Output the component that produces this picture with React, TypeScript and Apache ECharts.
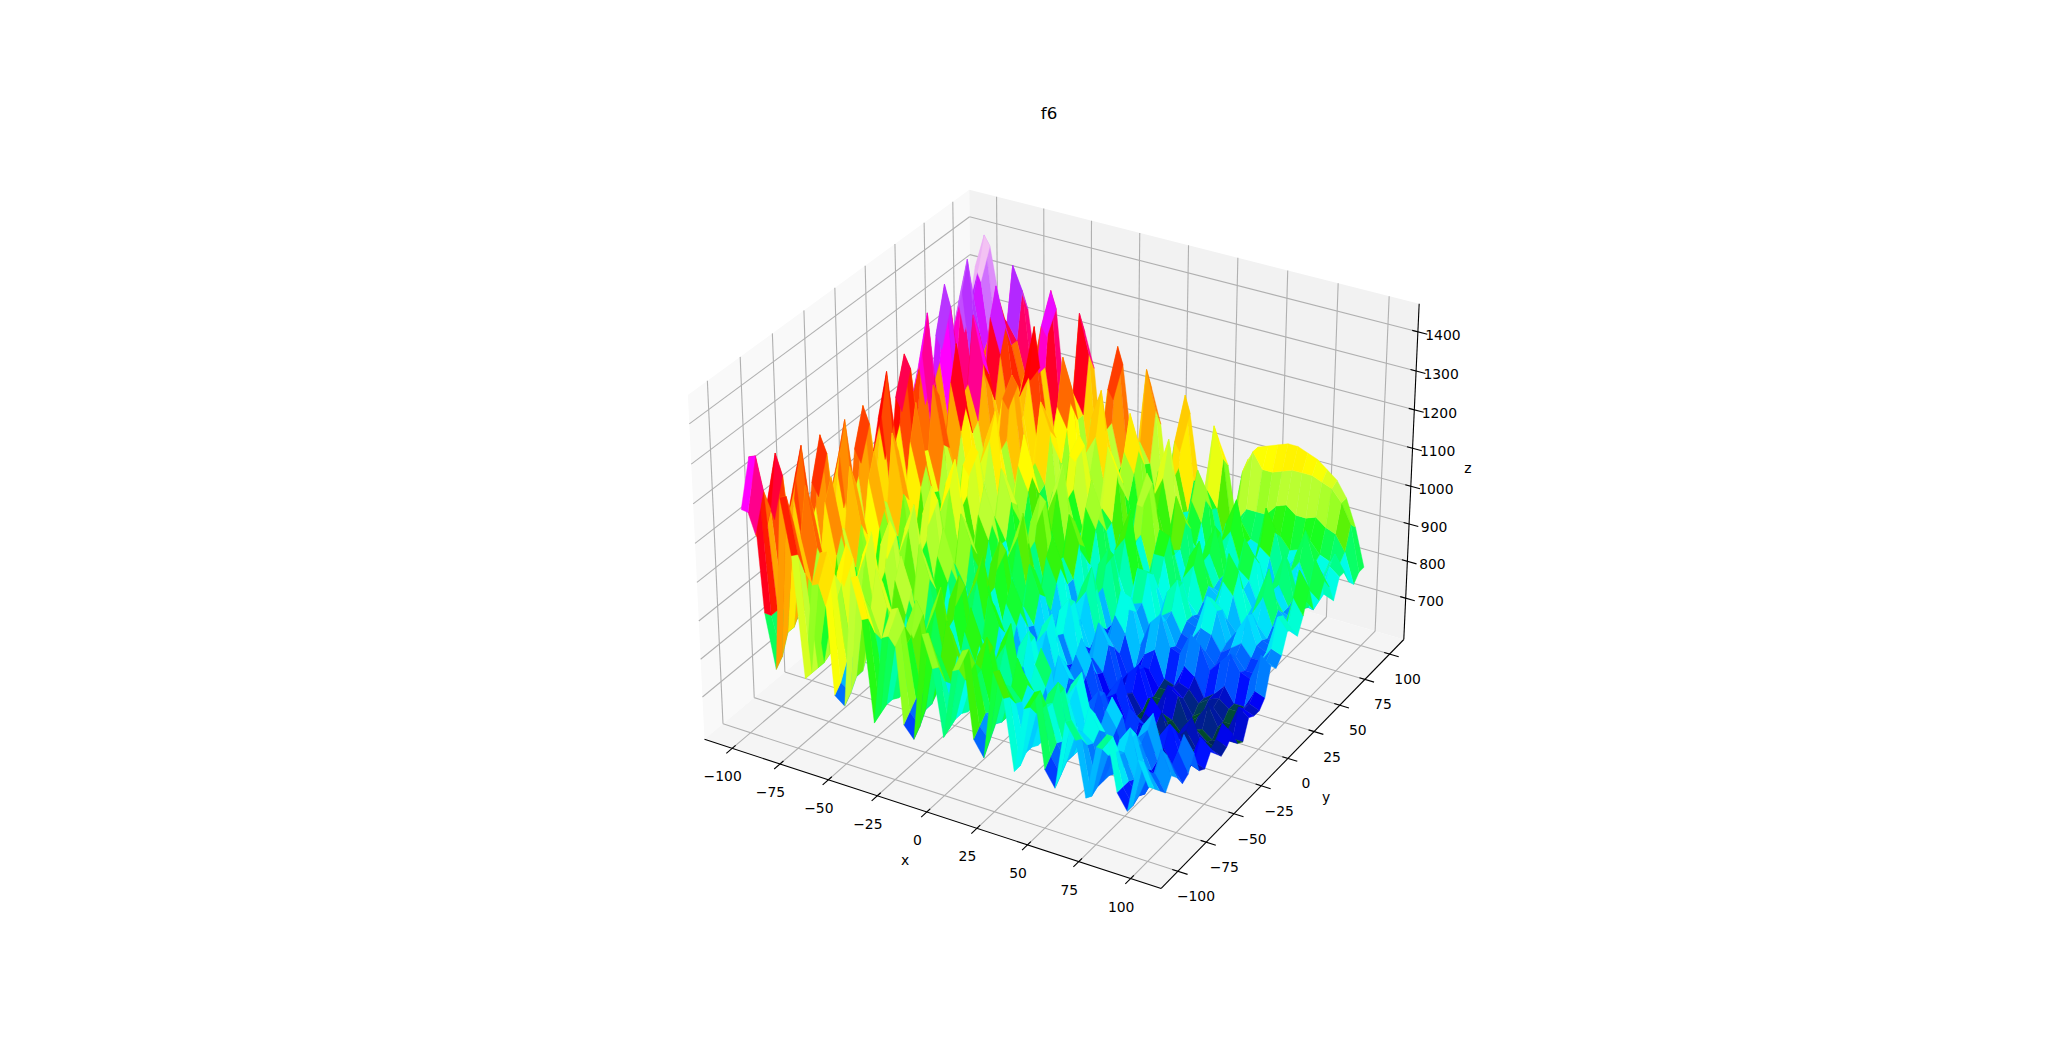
import React, { useEffect, useRef } from "react";
import * as echarts from "echarts";

const xTicks = [-100, -75, -50, -25, 0, 25, 50, 75, 100];
const yTicks = [-100, -75, -50, -25, 0, 25, 50, 75, 100];
const zTicks = [700, 800, 900, 1000, 1100, 1200, 1300, 1400];
const gridX = [-100,-95,-90,-85,-80,-75,-70,-65,-60,-55,-50,-45,-40,-35,-30,-25,-20,-15,-10,-5,0,5,10,15,20,25,30,35,40,45,50,55,60,65,70,75,80,85,90,95,100];
const gridY = gridX;
// surface heights, in tens of z units; first row is y=-100, last row y=100
const zRows = [
[117,131,92,78,123,109,78,103,112,76,74,108,98,72,95,103,74,71,99,91,74,92,98,76,72,95,89,71,88,93,74,70,88,84,70,84,88,74,70,84,78],
[115,130,90,80,122,108,78,102,111,78,76,107,97,73,94,102,76,73,98,90,75,91,97,78,75,94,88,71,87,92,76,72,87,83,69,82,86,74,70,82,76],
[108,120,90,85,114,102,78,95,104,82,79,100,92,74,90,96,78,76,92,85,76,87,92,80,78,89,85,73,84,87,78,74,83,80,70,79,81,74,71,78,74],
[104,114,89,85,109,98,78,92,100,82,79,96,89,74,87,92,78,76,89,83,76,85,89,79,77,87,84,73,83,86,77,74,81,79,70,77,79,73,70,76,72],
[114,127,93,88,121,106,79,101,109,87,83,105,96,73,93,100,80,78,97,89,75,90,96,80,77,93,87,72,86,90,77,74,86,81,70,80,84,74,71,81,75],
[108,120,92,87,114,101,79,96,104,84,81,100,92,73,88,95,79,77,92,85,75,86,92,79,76,88,84,72,83,87,76,73,83,79,69,78,81,73,70,78,73],
[95,102,85,83,99,90,77,85,91,80,78,88,83,72,81,85,76,74,83,78,74,80,84,77,75,82,79,71,79,82,74,72,78,75,69,75,77,71,69,74,70],
[106,118,91,87,113,100,78,95,103,84,81,98,90,73,87,94,79,76,90,83,75,85,90,78,75,87,82,71,81,85,75,72,81,77,68,76,79,72,69,76,71],
[111,124,92,87,118,105,78,100,107,85,82,103,95,73,91,98,80,77,95,88,75,88,94,79,76,90,85,72,83,87,76,73,83,79,69,78,82,73,70,79,75],
[99,109,87,84,104,95,77,89,95,81,79,91,85,72,83,88,76,74,85,80,70,78,81,73,72,78,75,67,72,74,68,67,72,70,66,69,71,67,66,70,69],
[97,106,86,83,102,93,77,87,94,80,78,89,84,72,82,87,75,74,84,79,70,77,80,72,71,77,74,67,71,73,68,67,71,69,66,68,70,66,65,69,68],
[110,123,92,87,117,103,77,99,106,85,81,102,94,74,90,97,79,77,94,87,72,83,88,74,73,84,79,68,74,78,69,68,76,73,65,71,75,68,67,74,71],
[105,117,90,85,111,99,77,94,101,83,80,97,90,74,87,93,78,76,90,84,72,81,85,74,72,81,77,68,73,76,69,68,73,71,65,69,72,67,66,71,69],
[93,100,84,82,97,89,76,84,90,79,77,86,82,73,80,84,75,74,82,78,71,76,79,72,71,76,73,67,70,72,67,66,69,68,64,67,69,66,65,68,67],
[104,115,89,85,110,98,77,93,100,83,80,95,89,74,86,92,78,76,88,83,72,80,84,74,72,80,75,67,71,73,67,66,70,68,63,66,69,65,64,69,68],
[109,122,91,87,116,102,77,98,105,84,81,101,93,74,89,97,79,77,93,87,72,83,87,74,73,83,78,68,72,76,67,66,73,70,63,67,71,65,64,72,70],
[97,107,86,84,102,93,76,88,94,81,79,90,85,73,83,88,76,74,84,80,72,77,80,73,72,76,73,66,69,70,65,64,67,66,62,64,66,64,63,66,66],
[96,105,85,83,100,92,76,87,93,80,78,89,84,73,82,86,75,74,83,79,71,76,79,72,71,75,72,66,68,69,65,64,66,65,62,64,65,63,63,65,65],
[110,122,92,87,117,102,78,98,106,85,81,101,94,74,90,97,79,77,93,86,72,83,87,74,73,83,78,68,72,75,67,66,72,70,64,66,70,65,65,72,70],
[105,116,90,86,111,99,78,94,101,83,80,97,90,74,87,93,78,76,90,84,72,81,85,74,72,80,76,67,71,73,66,66,70,68,64,66,68,65,65,70,69],
[94,102,85,84,98,90,78,85,91,81,79,87,83,75,81,85,77,75,83,79,72,77,79,72,71,76,73,67,70,71,67,67,70,69,66,68,69,67,67,70,69],
[105,116,91,87,111,100,79,95,102,85,82,97,91,75,88,94,80,77,91,85,72,81,85,74,73,81,77,68,73,75,68,67,73,71,66,68,71,67,67,72,71],
[113,126,95,90,120,105,81,101,108,87,84,103,96,76,91,99,81,79,95,89,71,84,90,75,73,86,85,73,80,83,75,74,80,78,72,75,78,74,73,80,78],
[101,111,90,87,106,96,81,91,97,83,81,93,87,76,85,90,78,76,87,82,71,78,83,73,72,80,80,73,78,80,74,73,77,75,72,74,76,73,73,77,76],
[100,110,90,88,105,95,81,90,96,83,81,92,87,76,84,89,78,76,87,82,71,78,82,73,72,80,81,74,79,81,76,75,79,78,74,76,78,75,75,79,78],
[115,127,97,91,121,106,84,102,108,88,85,104,96,77,92,100,82,80,97,90,72,86,91,76,75,88,88,75,84,88,78,77,86,83,75,79,84,77,76,86,83],
[110,122,96,92,117,104,85,98,105,87,85,100,94,77,90,97,81,79,94,88,72,84,88,76,75,86,86,75,82,86,78,77,84,82,75,79,83,77,76,85,82],
[100,107,92,90,104,96,85,90,96,84,83,91,87,77,84,88,79,78,85,82,73,78,81,74,74,79,81,75,78,80,77,76,79,78,75,77,79,76,76,80,79],
[113,124,100,95,118,106,88,99,106,88,86,101,95,78,91,98,82,80,95,90,73,86,90,77,76,88,88,76,84,88,79,78,86,83,75,80,85,78,77,87,83],
[119,133,103,97,127,112,91,104,112,90,88,108,99,79,95,103,85,82,101,94,75,89,96,80,78,93,92,77,88,93,82,80,92,88,77,83,91,81,79,93,89],
[107,116,98,95,112,103,91,95,101,88,86,97,92,79,88,93,83,81,90,87,75,82,86,78,77,84,86,77,82,86,80,79,84,82,77,80,83,79,78,84,82],
[109,118,100,97,114,105,91,97,102,89,87,98,93,79,89,94,84,81,91,88,75,83,87,78,77,85,86,77,83,87,81,79,85,83,77,81,84,79,78,85,83],
[123,137,109,104,131,119,96,111,118,95,92,113,106,82,101,107,89,86,106,100,78,93,102,84,82,98,92,75,87,93,81,79,92,88,74,83,91,80,78,92,87],
[118,130,108,104,125,115,97,107,114,94,92,109,103,83,98,103,89,86,102,96,78,91,98,83,81,93,89,75,84,90,80,78,88,85,74,81,87,79,77,88,84],
[108,116,102,100,113,107,97,100,105,90,89,100,95,83,92,95,86,84,94,90,79,85,90,81,79,86,83,75,80,83,77,76,81,79,74,77,80,76,75,80,79],
[121,132,110,106,127,118,101,108,114,95,93,108,103,83,98,103,90,87,101,96,79,91,97,84,81,93,88,75,84,88,80,78,86,84,75,81,85,79,78,86,84],
[127,139,115,110,134,124,104,113,126,97,94,120,112,84,106,114,93,90,110,102,80,97,106,87,84,100,95,76,88,95,84,80,95,90,80,84,92,84,82,88,84],
[118,128,114,111,125,118,108,110,114,95,93,108,103,84,100,103,91,88,101,96,81,90,97,86,83,92,89,77,85,88,84,83,88,87,84,85,88,85,84,84,80],
[125,135,117,112,122,118,108,110,113,96,93,108,103,85,99,103,92,88,100,95,81,90,96,85,83,92,88,78,86,90,90,90,93,94,92,92,93,91,90,86,78],
[133,142,120,112,136,130,108,122,132,100,95,128,118,88,110,122,96,92,118,108,82,101,114,92,87,108,100,82,98,104,100,100,101,102,102,102,101,100,97,92,80],
[128,138,124,116,130,124,106,118,126,100,95,122,113,88,106,116,95,91,112,103,82,97,108,91,87,103,97,82,100,104,105,106,107,107,106,105,103,101,97,90,80],
];
const X0 = -114.58, X1 = 114.58, Z0 = 587, Z1 = 1471;
const AX = 1.1905, AZ = 0.8929;
const W = [0.433013, -0.75, 0.5], U = [0.866025, 0.5, 0], V = [-0.25, 0.433013, 0.866025];
const E = [AX / 2 + 4.33013, AX / 2 - 7.5, AZ / 2 + 5];
function proj(x: number, y: number, z: number) {
  const P = [((x - X0) / (X1 - X0)) * AX - E[0], ((y - X0) / (X1 - X0)) * AX - E[1], ((z - Z0) / (Z1 - Z0)) * AZ - E[2]];
  const d = (a: number[]) => a[0] * P[0] + a[1] * P[1] + a[2] * P[2];
  const w = -d(W);
  return [1060.6 + (d(U) / w) * 4394.6, 522.3 - (d(V) / w) * 4394.6, w];
}
const stops: [number, number, number, number][] = [
  [0, 0, 0, 0.5], [0.05, 0, 0.35, 0.1], [0.08, 0, 0.1, 0.6], [0.12, 0, 0, 1], [0.2, 0, 0.5, 1], [0.25, 0, 0.85, 1], [0.28, 0, 1, 0.9], [0.31, 0, 1, 0.55], [0.37, 0.1, 1, 0.1], [0.4, 0.3, 0.93, 0], [0.42, 0.5, 1, 0.1], [0.48, 0.75, 1, 0.2], [0.53, 1, 1, 0], [0.6, 1, 0.8, 0], [0.65, 1, 0.55, 0], [0.7, 1, 0.25, 0], [0.74, 1, 0, 0], [0.78, 1, 0, 0.5], [0.82, 1, 0, 1], [0.87, 0.7, 0.15, 1], [0.92, 0.8, 0.4, 1], [0.96, 0.95, 0.75, 0.95], [1, 1, 0.97, 1],
];
function cmap(t: number) {
  for (let i = 1; i < stops.length; i++) if (t <= stops[i][0]) {
    const a = stops[i - 1], b = stops[i], f = (t - a[0]) / (b[0] - a[0]);
    return `rgb(${[1, 2, 3].map((k) => Math.round(255 * (a[k] + (b[k] - a[k]) * f))).join(",")})`;
  }
  return "rgb(255,247,255)";
}
type Item = { pts: number[][]; fill?: string; stroke?: string; lw?: number };
function lineSeg(a: number[], b: number[], stroke: string, lw: number): Item {
  return { pts: [proj(a[0], a[1], a[2]), proj(b[0], b[1], b[2])], stroke, lw };
}
const Y1 = X1, Y0 = X0;
function frame() {
  const it: Item[] = [];
  it.push({ pts: [[X0, Y0, Z0], [X0, Y1, Z0], [X0, Y1, Z1], [X0, Y0, Z1]].map((p) => proj(p[0], p[1], p[2])), fill: "#f9f9f9" });
  it.push({ pts: [[X0, Y1, Z0], [X1, Y1, Z0], [X1, Y1, Z1], [X0, Y1, Z1]].map((p) => proj(p[0], p[1], p[2])), fill: "#f2f2f2" });
  it.push({ pts: [[X0, Y0, Z0], [X1, Y0, Z0], [X1, Y1, Z0], [X0, Y1, Z0]].map((p) => proj(p[0], p[1], p[2])), fill: "#f5f5f5" });
  const g = "#b0b0b0";
  for (const x of xTicks) { it.push(lineSeg([x, Y0, Z0], [x, Y1, Z0], g, 1.1)); it.push(lineSeg([x, Y1, Z0], [x, Y1, Z1], g, 1.1)); }
  for (const y of yTicks) { it.push(lineSeg([X0, y, Z0], [X1, y, Z0], g, 1.1)); it.push(lineSeg([X0, y, Z0], [X0, y, Z1], g, 1.1)); }
  for (const z of zTicks) { it.push(lineSeg([X0, Y0, z], [X0, Y1, z], g, 1.1)); it.push(lineSeg([X0, Y1, z], [X1, Y1, z], g, 1.1)); }
  it.push(lineSeg([X0, Y0, Z0], [X1, Y0, Z0], "#000", 1.1));
  it.push(lineSeg([X1, Y0, Z0], [X1, Y1, Z0], "#000", 1.1));
  it.push(lineSeg([X1, Y1, Z0], [X1, Y1, Z1], "#000", 1.1));
  const R = X1 - X0;
  for (const x of xTicks) it.push(lineSeg([x, Y0 + 0.012 * R, Z0], [x, Y0 - 0.02 * R, Z0], "#000", 1.1));
  for (const y of yTicks) it.push(lineSeg([X1 - 0.012 * R, y, Z0], [X1 + 0.02 * R, y, Z0], "#000", 1.1));
  for (const z of zTicks) it.push(lineSeg([X1 - 0.012 * R, Y1, z], [X1 + 0.02 * R, Y1, z], "#000", 1.1));
  return it;
}
function surface() {
  const all = zRows.flat();
  const lo = Math.min(...all), hi = Math.max(...all);
  const cells: { d: number; it: Item }[] = [];
  for (let j = 0; j + 1 < gridY.length; j++) for (let i = 0; i + 1 < gridX.length; i++) {
    const q = [[i, j], [i + 1, j], [i + 1, j + 1], [i, j + 1]];
    const zs = q.map(([a, b]) => zRows[b][a] * 10);
    const pts = q.map(([a, b], k) => proj(gridX[a], gridY[b], zs[k]));
    const m = zs.reduce((s, v) => s + v, 0) / 4;
    const shade = 0.45 * m + 0.55 * Math.max(...zs);
    const col = cmap((shade / 10 - lo) / (hi - lo));
    cells.push({ d: pts.reduce((s, p) => s + p[2], 0) / 4, it: { pts, fill: col, stroke: col, lw: 0.4 } });
  }
  cells.sort((a, b) => b.d - a.d);
  return cells.map((c) => c.it);
}
function labels() {
  const out: { t: string; x: number; y: number }[] = [];
  const fmt = (v: number) => (v < 0 ? "\u2212" + -v : "" + v);
  for (const x of xTicks) { const p = proj(x, Y0, Z0); out.push({ t: fmt(x), x: p[0] - 9.5, y: p[1] + 28 }); }
  for (const y of yTicks) { const p = proj(X1, y, Z0); out.push({ t: fmt(y), x: p[0] + 18, y: p[1] + 25 }); }
  for (const z of zTicks) { const p = proj(X1, Y1, z); out.push({ t: fmt(z), x: p[0] + 25, y: p[1] + 3 }); }
  return out;
}
const nameLabels = [{ t: "x", x: 905, y: 860 }, { t: "y", x: 1326, y: 797 }, { t: "z", x: 1468, y: 468 }];
const titleLabel = [{ t: "f6", x: 1049, y: 113 }];

function polySeries(items: Item[], z: number) {
  return {
    type: "custom", coordinateSystem: "cartesian2d", z, silent: true, clip: false,
    data: items.map((_, i) => [i]),
    renderItem: (params: any, api: any) => {
      const it = items[params.dataIndex];
      const pts = it.pts.map((p) => api.coord([p[0], p[1]]));
      if (pts.length === 2) return { type: "line", shape: { x1: pts[0][0], y1: pts[0][1], x2: pts[1][0], y2: pts[1][1] }, style: { stroke: it.stroke, lineWidth: it.lw } };
      return { type: "polygon", shape: { points: pts }, style: { fill: it.fill, stroke: it.stroke || "none", lineWidth: it.lw || 0 } };
    },
  };
}
function textSeries(items: { t: string; x: number; y: number }[], size: number) {
  return {
    type: "custom", coordinateSystem: "cartesian2d", z: 5, silent: true, clip: false,
    data: items.map((_, i) => [i]),
    renderItem: (params: any, api: any) => {
      const it = items[params.dataIndex];
      const c = api.coord([it.x, it.y]);
      return { type: "text", x: c[0], y: c[1], style: { text: it.t, fill: "#000", font: `${size}px "DejaVu Sans"`, align: "center", verticalAlign: "middle" } };
    },
  };
}
export default function App() {
  const ref = useRef<HTMLDivElement>(null);
  useEffect(() => {
    document.body.style.margin = "0";
    const chart = echarts.init(ref.current!, undefined, { renderer: "svg" });
    chart.setOption({
      animation: false,
      backgroundColor: "#fff",
      grid: { left: 0, top: 0, right: 0, bottom: 0 },
      xAxis: { type: "value", min: 0, max: 2048, show: false },
      yAxis: { type: "value", min: 0, max: 1056, inverse: true, show: false },
      series: [polySeries(frame(), 1), polySeries(surface(), 2), textSeries(labels(), 13.9), textSeries(nameLabels, 13.9), textSeries(titleLabel, 16.67)],
    });
    return () => chart.dispose();
  }, []);
  return <div ref={ref} style={{ width: 2048, height: 1056 }} />;
}
